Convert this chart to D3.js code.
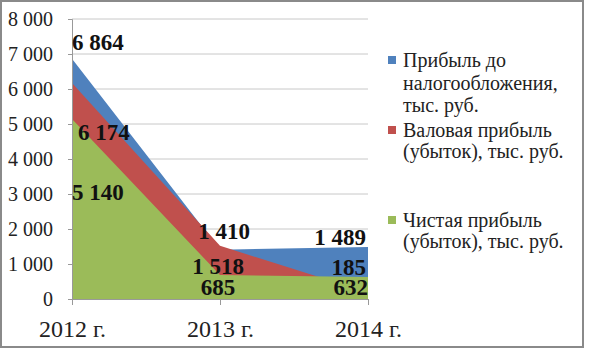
<!DOCTYPE html>
<html><head><meta charset="utf-8">
<script src="https://cdn.jsdelivr.net/npm/d3@7"></script>
</head>
<body>
<svg id="chart" width="589" height="350"></svg>
<script>
const years = ["2012 г.", "2013 г.", "2014 г."];
const seriesNames = [
  ["Прибыль до", "налогообложения,", "тыс. руб."],
  ["Валовая прибыль", "(убыток), тыс. руб."],
  ["Чистая прибыль", "(убыток), тыс. руб."]
];
const profitBeforeTax = [6864, 1410, 1489];
const grossProfit = [6174, 1518, 185];
const netProfit = [5140, 685, 632];
const yTicks = [0, 1000, 2000, 3000, 4000, 5000, 6000, 7000, 8000];
const colors = ["#4F81BD", "#C0504D", "#9BBB59"];
const fams = ["Liberation Serif"];
const ff = () => `'${fams[0]}'`;

d3.select("body").style("margin", "0px");
const svg = d3.select("#chart").style("display", "block");
const fmt = v => d3.format(",")(v).replace(/,/g, " ");

// frame
svg.append("rect").attr("x", 1).attr("y", 1).attr("width", 582).attr("height", 346)
  .attr("fill", "#fff").attr("stroke", "#8a8a8a").attr("stroke-width", 2);

const x = d3.scalePoint().domain(years).range([72, 368]);
const y = d3.scaleLinear().domain([0, 8000]).range([299, 19]);

// gridlines
svg.append("g").selectAll("line").data(yTicks.filter(d => d > 0)).join("line")
  .attr("x1", 72).attr("x2", 368).attr("y1", d => y(d)).attr("y2", d => y(d))
  .attr("stroke", "#c8c8c8").attr("stroke-width", 1);

// areas (overlapping)
const series = [profitBeforeTax, grossProfit, netProfit];
const area = d3.area().x((d, i) => x(years[i])).y0(y(0)).y1(d => y(d));
svg.append("g").selectAll("path").data(series).join("path")
  .attr("d", d => area(d)).attr("fill", (d, i) => colors[i]);

// y axis
const yAxis = d3.axisLeft(y).tickValues(yTicks).tickSize(4).tickFormat(fmt);
const ga = svg.append("g").attr("transform", "translate(72,0)").call(yAxis);
ga.select(".domain").attr("stroke", "#999");
ga.selectAll(".tick line").attr("stroke", "#999");
ga.selectAll("text").style("font-family", ff)
  .attr("font-size", 20).attr("fill", "#222").attr("x", -19);

// x axis
const xAxis = d3.axisBottom(x).tickSize(6).tickSizeOuter(0);
const gx = svg.append("g").attr("transform", "translate(0,299)").call(xAxis);
gx.select(".domain").attr("stroke", "#999");
gx.selectAll(".tick line").attr("stroke", "#999");
gx.selectAll("text").style("font-family", ff)
  .attr("font-size", 24).attr("fill", "#222").attr("dy", 0).attr("y", 38);

// data labels: offsets (baseline relative to point) per series / category
const anchors = ["start", "middle", "end"];
const offY = [[-9, -11, -2], [57, 28, -18], [81, 20, 18]];
const offX = [[0, 4, -2], [6, -2, -2], [0, -2, 0]];
const labels = [];
series.forEach((s, si) => s.forEach((v, i) => labels.push({si, i, v})));
svg.append("g").selectAll("text").data(labels).join("text")
  .attr("x", d => x(years[d.i]) + offX[d.si][d.i])
  .attr("y", d => y(d.v) + offY[d.si][d.i])
  .attr("text-anchor", d => anchors[d.i])
  .style("font-family", ff).attr("font-weight", "bold").attr("font-size", 23)
  .attr("fill", "#111").text(d => fmt(d.v));

// legend
const legendLines = [[67, 90, 112], [137, 158], [227, 248]];
const lg = svg.append("g");
seriesNames.forEach((lines, si) => {
  lg.append("rect").attr("x", 388).attr("y", legendLines[si][0] - 11).attr("width", 8).attr("height", 8)
    .attr("fill", colors[si]);
  lg.selectAll(null).data(lines).join("text")
    .attr("x", 403).attr("y", (t, li) => legendLines[si][li])
    .style("font-family", ff).attr("font-size", 20).attr("fill", "#222").text(t => t);
});
</script>
</body></html>
